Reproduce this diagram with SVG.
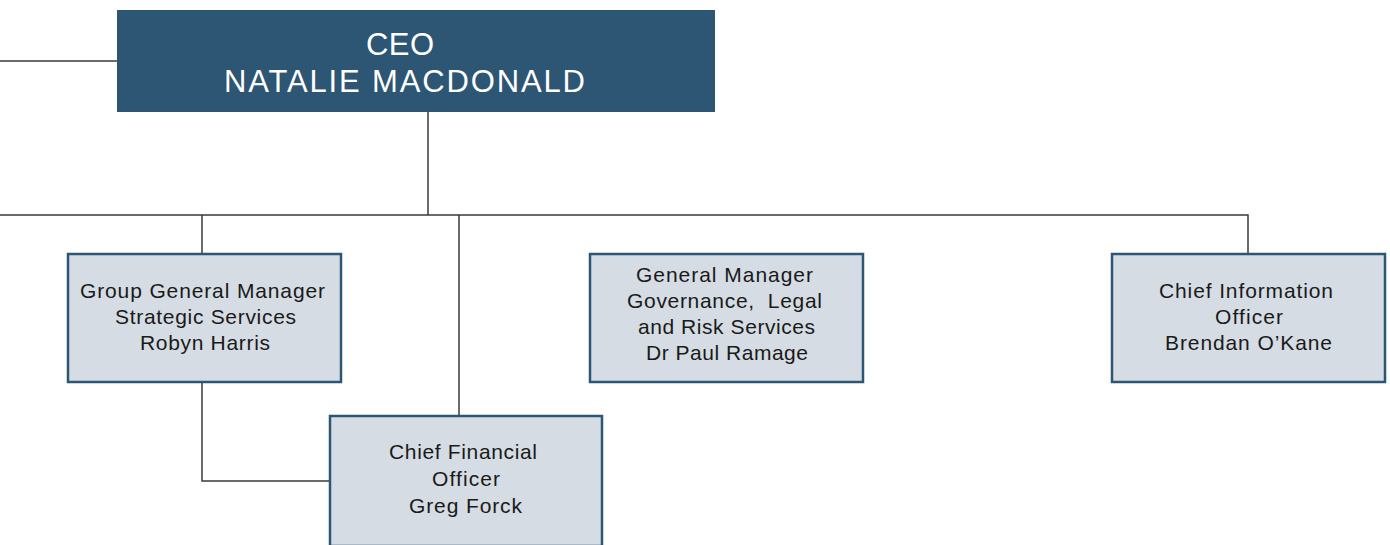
<svg xmlns="http://www.w3.org/2000/svg" width="1390" height="545" viewBox="0 0 1390 545">
  <style>
    .link { fill: none; stroke: #3a3a3a; stroke-width: 1.5; }
    .box { fill: #d5dce3; stroke: #2d5574; stroke-width: 2.5; }
    .head { fill: #2d5574; }
    .lbl { font-family: "Liberation Sans", Arial, sans-serif; font-size: 21px; fill: #1a1a1a; text-anchor: middle; }
    .headlbl { font-family: "Liberation Sans", Arial, sans-serif; font-size: 31px; fill: #ffffff; text-anchor: middle; }
  </style>
  <rect width="1390" height="545" fill="#ffffff"/>

  <g id="connectors">
    <path class="link" d="M0 61 H117"/>
    <path class="link" d="M428 112 V215"/>
    <path class="link" d="M0 215 H1248 V253"/>
    <path class="link" d="M202 215 V253"/>
    <path class="link" d="M459 215 V415"/>
    <path class="link" d="M202 382 V481 H330"/>
  </g>

  <g id="ceo">
    <rect class="head" x="117" y="10" width="598" height="102"/>
    <text class="headlbl" x="400" y="55" textLength="68" lengthAdjust="spacing">CEO</text>
    <text class="headlbl" x="404.5" y="92" textLength="361" lengthAdjust="spacing">NATALIE MACDONALD</text>
  </g>

  <g id="ggm-strategic">
    <rect class="box" x="68" y="254" width="273" height="128"/>
    <text class="lbl" x="202.5" y="298" textLength="245" lengthAdjust="spacing">Group General Manager</text>
    <text class="lbl" x="205.5" y="324" textLength="181" lengthAdjust="spacing">Strategic Services</text>
    <text class="lbl" x="205" y="350" textLength="130" lengthAdjust="spacing">Robyn Harris</text>
  </g>

  <g id="cfo">
    <rect class="box" x="330" y="416" width="272" height="130"/>
    <text class="lbl" x="463" y="459" textLength="148" lengthAdjust="spacing">Chief Financial</text>
    <text class="lbl" x="466" y="486" textLength="68" lengthAdjust="spacing">Officer</text>
    <text class="lbl" x="465.5" y="513" textLength="113" lengthAdjust="spacing">Greg Forck</text>
  </g>

  <g id="gm-governance">
    <rect class="box" x="590" y="254" width="273" height="128"/>
    <text class="lbl" x="724.5" y="282" textLength="177" lengthAdjust="spacing">General Manager</text>
    <text class="lbl" x="724.5" y="308" textLength="195" lengthAdjust="spacing" xml:space="preserve">Governance,  Legal</text>
    <text class="lbl" x="726.5" y="334" textLength="177" lengthAdjust="spacing">and Risk Services</text>
    <text class="lbl" x="727" y="360" textLength="162" lengthAdjust="spacing">Dr Paul Ramage</text>
  </g>

  <g id="cio">
    <rect class="box" x="1112" y="254" width="273" height="128"/>
    <text class="lbl" x="1246" y="298" textLength="174" lengthAdjust="spacing">Chief Information</text>
    <text class="lbl" x="1249" y="324" textLength="68" lengthAdjust="spacing">Officer</text>
    <text class="lbl" x="1248.5" y="350" textLength="167" lengthAdjust="spacing">Brendan O’Kane</text>
  </g>
</svg>
